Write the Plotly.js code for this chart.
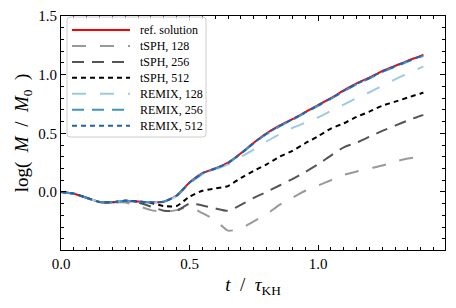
<!DOCTYPE html>
<html>
<head>
<meta charset="utf-8">
<script src="https://cdn.plot.ly/plotly-3.0.1.min.js"></script>
<style>html,body{margin:0;padding:0;background:#fff;}#chart{width:456px;height:308px;}</style>
</head>
<body>
<div id="chart"></div>
<script>
// time samples t / tau_KH
const tRef     = [0, 0.05, 0.10, 0.15, 0.20, 0.25, 0.30, 0.35, 0.40, 0.45, 0.50, 0.55, 0.60, 0.65, 0.70, 0.75, 0.80, 0.85, 0.90, 0.95, 1.00, 1.05, 1.10, 1.15, 1.20, 1.25, 1.30, 1.35, 1.40, 1.41];
const refSol   = [0, -0.015, -0.05, -0.085, -0.088, -0.075, -0.082, -0.088, -0.083, -0.03, 0.08, 0.16, 0.20, 0.25, 0.33, 0.42, 0.50, 0.565, 0.62, 0.68, 0.74, 0.80, 0.865, 0.925, 0.975, 1.03, 1.075, 1.12, 1.16, 1.17];
const remix512 = [0, -0.015, -0.05, -0.085, -0.088, -0.075, -0.082, -0.088, -0.083, -0.032, 0.078, 0.158, 0.20, 0.248, 0.328, 0.418, 0.498, 0.562, 0.618, 0.678, 0.738, 0.798, 0.862, 0.922, 0.972, 1.027, 1.072, 1.117, 1.157, 1.167];
const remix256 = [0, -0.015, -0.05, -0.085, -0.088, -0.075, -0.082, -0.088, -0.083, -0.033, 0.077, 0.157, 0.198, 0.246, 0.325, 0.414, 0.494, 0.558, 0.614, 0.674, 0.733, 0.793, 0.857, 0.917, 0.967, 1.022, 1.067, 1.112, 1.152, 1.162];
const remix128 = [0, -0.015, -0.05, -0.085, -0.088, -0.075, -0.082, -0.088, -0.083, -0.035, 0.07, 0.15, 0.19, 0.235, 0.30, 0.36, 0.43, 0.49, 0.545, 0.59, 0.635, 0.69, 0.745, 0.80, 0.85, 0.905, 0.96, 1.01, 1.06, 1.07];
const tsph512  = [0, -0.015, -0.05, -0.085, -0.088, -0.075, -0.082, -0.095, -0.12, -0.12, -0.04, 0.01, 0.03, 0.05, 0.12, 0.18, 0.235, 0.30, 0.35, 0.415, 0.475, 0.54, 0.585, 0.64, 0.685, 0.735, 0.77, 0.805, 0.84, 0.845];
const tsph256  = [0, -0.015, -0.05, -0.085, -0.088, -0.078, -0.09, -0.125, -0.16, -0.16, -0.10, -0.115, -0.14, -0.16, -0.11, -0.05, 0.0, 0.055, 0.11, 0.17, 0.235, 0.31, 0.38, 0.42, 0.47, 0.52, 0.565, 0.61, 0.65, 0.655];
const tsph128  = [0, -0.015, -0.05, -0.085, -0.09, -0.09, -0.12, -0.155, -0.17, -0.155, -0.13, -0.18, -0.24, -0.33, -0.31, -0.25, -0.19, -0.11, -0.05, 0.01, 0.055, 0.10, 0.145, 0.175, 0.20, 0.225, 0.26, 0.285, 0.30, 0.30];

const names  = ['ref. solution', 'tSPH, 128', 'tSPH, 256', 'tSPH, 512', 'REMIX, 128', 'REMIX, 256', 'REMIX, 512'];
const series = [refSol, tsph128, tsph256, tsph512, remix128, remix256, remix512];
const colors = ['#ff0000', '#999999', '#555555', '#000000', '#9ecae1', '#4292c6', '#1f63ad'];
const dashes = ['solid', '14px,14px', '12px,8px', '5px,4px', '14px,14px', '12px,8px', '5px,4px'];

const traces = series.map((y, i) => ({
  x: tRef, y: y, name: names[i], type: 'scatter', mode: 'lines', showlegend: false,
  line: {color: colors[i], width: 2, dash: dashes[i], shape: 'spline', smoothing: 0.6}
}));

// plot-area geometry in pixels (for the legend box drawn in paper coords)
const W = 456, H = 308, ML = 61, MR = 11, MT = 16, MB = 58;
const PW = W - ML - MR, PH = H - MT - MB;
const px = x => (x - ML) / PW;
const py = y => (H - MB - y) / PH;

const shapes = [];
const annotations = [];
// legend frame with rounded corners
(function () {
  const x0 = 67, x1 = 206, y0 = 17, y1 = 137, r = 3;
  const rx = r / PW, ry = r / PH;
  const X0 = px(x0), X1 = px(x1), Y0 = py(y0), Y1 = py(y1);
  const p = `M${X0 + rx},${Y0} L${X1 - rx},${Y0} Q${X1},${Y0} ${X1},${Y0 - ry} ` +
            `L${X1},${Y1 + ry} Q${X1},${Y1} ${X1 - rx},${Y1} L${X0 + rx},${Y1} ` +
            `Q${X0},${Y1} ${X0},${Y1 + ry} L${X0},${Y0 - ry} Q${X0},${Y0} ${X0 + rx},${Y0} Z`;
  shapes.push({type: 'path', xref: 'paper', yref: 'paper', path: p,
    fillcolor: 'rgba(255,255,255,0.8)', line: {color: '#cccccc', width: 1}, layer: 'above'});
})();
const font = 'Liberation Serif, DejaVu Serif, serif';
names.forEach((n, i) => {
  const yc = 30 + i * 15.95;
  shapes.push({type: 'line', xref: 'paper', yref: 'paper', x0: px(72), x1: px(130), y0: py(yc), y1: py(yc),
    line: {color: colors[i], width: 2, dash: dashes[i]}, layer: 'above'});
  annotations.push({xref: 'paper', yref: 'paper', x: px(137.5), y: py(yc), xanchor: 'left', yanchor: 'middle',
    text: n, showarrow: false, font: {family: font, size: 12, color: '#000'}});
});

const layout = {
  width: W, height: H,
  margin: {l: ML, r: MR, t: MT, b: MB},
  paper_bgcolor: '#fff', plot_bgcolor: '#fff',
  font: {family: font, size: 15, color: '#000'},
  showlegend: false,
  shapes: shapes,
  annotations: annotations,
  xaxis: {
    range: [0, 1.494], tickvals: [0, 0.5, 1.0], ticktext: ['0.0', '0.5', '1.0'],
    ticks: 'inside', ticklen: 5, tickwidth: 1, tickcolor: '#000',
    minor: {ticks: 'inside', dtick: 0.05, tick0: 0, ticklen: 3, tickcolor: '#000', showgrid: false},
    showline: true, linecolor: '#000', linewidth: 1, mirror: 'allticks',
    showgrid: false, zeroline: false,
    tickfont: {family: font, size: 15},
    title: {text: '<i>t</i>  /  <i>τ</i><sub>KH</sub>', font: {family: font, size: 19}, standoff: 6}
  },
  yaxis: {
    range: [-0.495, 1.5], tickvals: [0, 0.5, 1.0, 1.5], ticktext: ['0.0', '0.5', '1.0', '1.5'],
    ticks: 'inside', ticklen: 5, tickwidth: 1, tickcolor: '#000',
    minor: {ticks: 'inside', dtick: 0.1, tick0: 0, ticklen: 3, tickcolor: '#000', showgrid: false},
    showline: true, linecolor: '#000', linewidth: 1, mirror: 'allticks',
    showgrid: false, zeroline: false,
    tickfont: {family: font, size: 15},
    title: {text: 'log(  <i>M</i>  /  <i>M</i><sub>0</sub>  )', font: {family: font, size: 19}, standoff: 4}
  }
};

Plotly.newPlot('chart', traces, layout, {staticPlot: true, displayModeBar: false});
</script>
</body>
</html>
